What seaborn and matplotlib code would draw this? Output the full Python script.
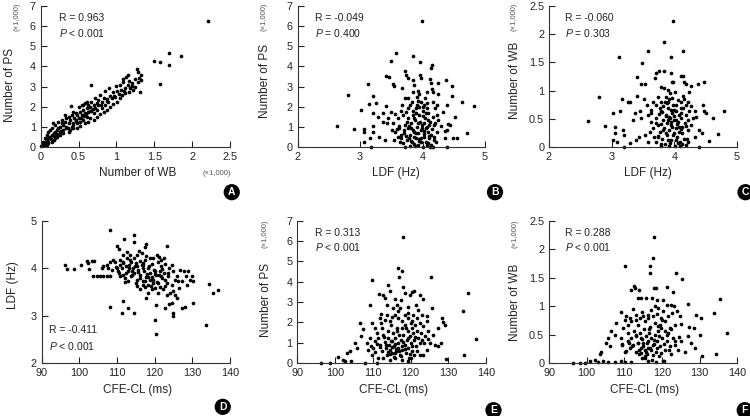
import matplotlib
matplotlib.use("Agg")
import matplotlib.pyplot as plt
import seaborn as sns

# values (WB / PS counts shown in thousands)
a_wb = [2.21,1.70,1.85,1.49,1.58,1.69,1.58,1.27,1.31,0.67,0.40,1.15,1.13,1.09,1.16,1.05,1.08,0.99,1.15,1.16,1.22,1.29,1.30,1.32,1.28,1.33,1.24,1.20,1.11,1.03,0.95,0.90,0.85,0.92,0.83,0.87,0.78,0.76,0.81,0.74,0.72,0.70,0.67,0.65,0.63,0.61,0.59,0.56,0.54,0.52,0.51,0.48,0.54,0.59,0.62,0.65,0.69,0.44,0.47,0.41,0.39,0.37,0.34,0.32,0.30,0.28,0.26,0.23,0.21,0.19,0.17,0.15,0.12,0.10,0.08,0.06,0.04,0.02,0.43,0.48,0.41,0.52,0.50,0.56,0.61,0.70,0.74,0.81,0.85,0.89,0.94,0.98,1.01,1.06,0.76,0.65,0.19,0.16,0.23,0.28,0.32,0.26,0.30,0.34,0.39,0.12,0.08,0.15,0.10,0.06,0.03,0.04,0.10,0.17,0.21,0.26,0.19,0.15,0.08,0.01,0.30,0.37,0.43,0.48,0.52,0.59,0.63,0.70,0.74,0.78,0.83,0.87,0.92,0.96,1.01,1.05,1.07,1.11,1.18,1.25,0.43,0.38,0.47,0.61,0.56,
        0.05,0.09,0.13,0.18,0.22,0.27,0.33,0.36,0.42,0.46,0.53,0.57,0.60,0.66,0.72,0.79,0.88,0.97,1.10,1.20]
a_ps = [6.26,4.69,4.54,4.27,4.24,4.07,3.15,3.87,2.72,3.06,2.05,3.58,3.49,3.38,3.28,3.08,3.21,3.05,3.08,2.72,2.83,3.25,3.44,3.58,3.74,3.33,3.38,3.16,2.91,2.62,2.72,2.91,2.78,2.55,2.45,2.37,2.58,2.33,2.22,2.17,2.42,2.09,2.25,2.00,2.09,1.92,2.17,1.84,2.09,1.75,2.00,1.59,1.59,1.67,1.75,1.79,1.89,1.42,1.34,1.59,1.34,1.18,1.42,1.26,1.09,1.18,1.01,0.93,0.84,0.76,0.68,0.60,0.51,0.43,0.35,0.26,0.18,0.10,1.09,1.18,1.01,1.26,1.42,1.34,1.51,1.67,1.84,1.92,2.09,2.25,2.42,2.50,2.78,2.83,2.09,1.42,1.09,1.18,1.26,1.34,1.59,0.76,0.84,0.93,0.84,0.84,0.60,0.93,0.76,0.43,0.26,0.10,0.18,0.35,0.51,0.60,0.43,0.26,0.10,0.03,0.68,0.76,0.93,0.96,1.06,1.18,1.26,1.34,1.51,1.62,1.75,1.84,2.00,2.12,2.25,2.42,2.58,2.67,2.91,3.00,1.75,1.51,1.67,2.25,2.09,
        0.15,0.25,0.40,0.55,0.65,0.80,1.00,0.95,1.20,1.30,1.45,1.55,1.65,1.80,1.95,2.10,2.30,2.55,2.80,3.05]

b_ldf = [3.99,3.58,3.85,3.49,3.96,4.15,4.13,3.72,3.42,3.46,3.96,3.98,3.74,3.76,3.12,3.52,3.54,3.84,3.87,4.12,4.14,4.24,4.38,4.48,3.67,3.93,4.15,4.16,4.24,2.81,3.20,4.47,4.63,4.82,3.26,3.14,3.41,3.01,3.20,3.36,3.50,3.67,3.72,3.77,3.83,3.91,3.98,4.07,4.17,4.23,4.39,4.33,4.52,4.23,4.41,4.39,4.44,4.49,4.71,4.56,2.63,2.90,3.07,3.07,3.21,3.20,3.06,3.16,3.17,3.31,3.40,3.37,3.43,3.52,3.54,3.56,3.61,3.62,3.66,3.68,3.66,3.72,3.71,3.75,3.76,3.77,3.80,3.82,3.83,3.84,3.85,3.87,3.88,3.89,3.91,3.92,3.93,3.94,3.96,3.98,3.99,4.00,4.01,4.02,4.03,4.04,4.05,4.07,4.08,4.09,4.10,4.12,4.14,4.15,4.16,4.19,4.19,4.20,4.21,4.23,4.24,3.77,3.80,3.73,3.69,3.66,3.56,3.45,3.29,3.51,3.61,3.91,3.94,3.85,4.07,4.09,3.87,3.89,3.98,4.07,4.16,4.39,3.72,3.80,3.64,3.59,4.03,4.04,3.94,3.85,4.07,4.30,4.36,4.36,
         3.74,3.78,3.81,3.86,3.90,3.93,3.95,3.97,4.00,4.02,4.05,4.08,4.11,4.13,4.18,4.20,3.82,3.86,3.90,3.94,3.99,4.03,4.06,4.10,3.70,3.75,3.79,3.63,3.92,4.00,3.88,4.12]
b_ps = [6.26,4.69,4.54,4.25,4.24,4.07,3.94,3.79,3.53,3.48,3.58,3.44,3.58,3.44,3.15,3.15,3.05,3.31,3.08,3.38,3.16,3.20,3.31,3.05,2.91,2.78,2.88,2.72,2.62,2.57,2.55,2.55,2.25,2.02,2.20,2.14,2.04,1.84,1.67,1.67,1.75,2.09,2.45,2.42,2.25,2.48,2.25,2.17,2.25,2.09,2.09,1.75,1.47,1.59,1.13,0.84,1.09,0.43,0.70,0.46,1.04,0.89,0.88,0.76,1.06,0.73,0.26,0.43,0.0,0.51,0.35,1.26,1.18,1.18,0.33,0.76,1.42,0.93,0.43,0.18,0.60,1.09,0.68,0.35,1.42,0.93,0.60,1.18,0.23,1.59,0.84,0.51,1.34,1.92,1.01,0.10,0.68,1.59,1.26,0.43,0.93,1.79,0.02,1.18,0.63,1.42,0.26,1.01,1.67,0.76,0.43,1.26,0.10,0.89,1.51,0.51,1.09,1.92,0.23,0.76,1.34,1.92,2.09,1.75,1.59,1.79,1.62,1.42,1.51,0.84,0.51,2.09,2.00,1.79,1.92,1.34,0.76,0.46,0.26,0.10,0.02,0.0,0.02,0.07,0.26,0.89,2.09,2.42,2.62,2.72,2.75,1.06,0.79,0.43,
        0.55,1.05,0.30,1.45,0.70,1.20,0.40,0.85,1.55,0.50,0.95,0.20,1.10,0.60,0.35,1.20,0.95,0.15,1.70,0.30,1.10,0.80,1.70,0.55,0.85,1.25,0.45,1.05,2.30,2.00,0.05,0.0]

c_ldf = [3.98,3.84,3.58,4.14,3.12,3.95,3.48,3.71,3.75,3.84,3.95,4.11,4.14,3.41,3.47,3.53,3.69,3.79,3.84,3.90,3.96,3.98,4.15,4.19,4.27,4.37,4.47,4.23,4.14,4.16,2.80,3.17,3.26,3.29,3.40,3.51,3.74,3.78,3.85,3.90,3.96,4.03,4.10,4.46,4.48,4.79,4.62,4.33,4.51,4.34,2.62,2.89,3.02,3.05,3.06,3.18,3.19,3.14,3.08,3.19,3.30,3.39,3.43,3.38,3.45,3.47,3.58,3.62,3.63,3.66,3.68,3.70,3.71,3.74,3.77,3.79,3.80,3.82,3.83,3.85,3.86,3.88,3.89,3.90,3.91,3.93,3.94,3.95,3.96,3.98,3.99,4.01,4.02,4.03,4.05,4.06,4.07,4.09,4.10,4.11,4.13,4.14,4.15,4.17,4.18,4.19,4.21,4.22,4.24,4.26,4.30,4.39,4.40,4.44,4.55,4.70,3.56,3.66,3.71,3.77,3.82,3.87,3.93,4.01,4.06,4.19,4.22,4.27,3.02,3.34,3.53,3.58,3.61,3.78,3.74,3.91,4.09,4.22,4.33,3.91,3.98,4.07,
         3.74,3.78,3.81,3.86,3.90,3.93,3.95,3.97,4.00,4.02,4.05,4.08,4.11,4.13,4.18,4.20,3.82,3.86,3.90,3.94,3.99,4.03,4.06,4.10,3.70,3.75,3.79,3.63,3.92,4.00,3.88,4.12]
c_wb = [2.23,1.86,1.71,1.70,1.59,1.59,1.49,1.32,1.34,1.35,1.31,1.26,1.26,1.25,1.12,1.11,1.23,1.07,1.04,1.01,1.16,1.15,1.15,1.11,1.08,1.12,1.15,0.97,0.91,0.86,0.89,0.85,0.79,0.80,0.90,0.86,0.89,0.80,0.79,0.79,0.87,0.74,0.80,0.74,0.64,0.64,0.52,0.64,0.61,0.54,0.47,0.38,0.60,0.36,0.25,0.30,0.21,0.64,0.09,0.0,0.07,0.12,0.18,0.60,0.63,0.51,0.57,0.66,0.45,0.33,0.18,0.09,0.52,0.39,0.27,0.63,0.15,0.48,0.33,0.05,0.57,0.42,0.21,0.69,0.30,0.51,0.12,0.39,0.60,0.21,0.48,0.02,0.33,0.64,0.18,0.45,0.57,0.09,0.32,0.51,0.24,0.69,0.15,0.42,0.04,0.57,0.30,0.48,0.63,0.39,0.51,0.30,0.0,0.24,0.11,0.23,0.74,0.80,0.74,0.69,0.72,0.89,0.95,0.98,0.83,0.74,0.80,0.72,0.12,0.48,0.21,0.09,0.27,0.01,0.18,0.01,0.01,0.09,0.18,0.54,0.74,0.36,
        0.20,0.40,0.62,0.25,0.48,0.08,0.66,0.35,0.55,0.12,0.40,0.27,0.60,0.05,0.38,0.15,0.30,0.55,0.12,0.45,0.25,0.48,0.08,0.70,0.42,0.58,0.05,0.60,0.85,0.65,0.78,0.35]

d_cfe = [108.2,114.4,111.9,114.4,110.1,110.5,117.7,117.4,115.8,123.2,113.5,120.5,121.2,118.8,96.2,96.6,98.7,100.4,101.9,102.4,103.3,103.9,102.6,106.4,107.3,108.1,108.8,109.5,110.8,111.7,112.6,113.5,103.7,104.6,105.5,106.4,107.3,108.1,107.7,108.6,109.7,110.3,111.2,111.7,112.4,112.8,113.3,113.6,114.2,114.6,115.0,115.2,115.7,116.1,116.5,116.8,117.2,117.4,117.7,118.1,118.3,118.8,119.2,119.5,119.8,120.1,120.4,120.8,121.0,121.3,121.6,122.0,122.3,122.5,122.8,123.2,123.6,123.9,124.1,124.5,124.9,125.4,125.8,126.0,126.5,127.2,127.8,128.3,128.5,128.9,129.4,129.8,130.3,134.3,135.4,136.8,133.7,108.1,111.7,111.3,113.0,114.6,117.7,118.3,120.4,120.1,120.4,122.7,123.9,124.9,124.9,124.5,127.3,128.1,130.3,116.1,115.2,116.9,118.8,119.6,121.0,121.4,122.7,123.2,124.8,125.4,126.3,118.3,113.0,112.2,110.8,113.9,115.2,116.1,116.9,117.8,119.6,121.8,122.5,109.9,110.8,106.0,111.6,114.4,115.2,116.5,112.6,126.7,124.5,121.6,120.1,117.4,119.2,
         111.5,112.5,113.2,114.0,114.8,115.5,116.2,116.8,117.5,118.0,118.6,119.2,120.0,120.6,121.2,122.0,122.8,123.5,112.0,115.0,119.0,110.5,113.8,117.0]
d_ldf = [4.80,4.70,4.61,4.56,4.46,4.40,4.51,4.45,4.36,4.47,4.28,4.28,4.23,4.21,4.07,3.99,3.99,4.07,4.16,4.11,4.16,4.16,3.99,4.04,4.07,4.13,4.18,4.13,4.18,4.14,4.21,4.18,3.83,3.83,3.83,3.83,3.83,3.83,4.00,3.97,4.02,3.93,4.00,3.86,4.04,3.93,4.07,3.83,4.00,3.90,4.11,3.76,3.97,3.86,4.07,3.72,3.93,4.18,3.81,4.00,3.65,3.90,4.09,3.76,3.97,3.58,3.85,4.14,3.69,3.93,4.04,3.79,3.55,3.90,4.09,3.69,3.83,4.00,3.48,3.65,3.93,3.76,3.37,3.83,3.58,3.72,3.95,3.83,3.65,3.93,3.76,3.83,3.72,3.67,3.48,3.53,2.81,3.18,3.31,3.06,3.16,3.06,3.37,3.48,3.22,2.90,2.62,3.16,3.24,3.05,3.00,3.27,3.16,3.19,3.27,3.55,3.62,3.65,3.76,3.69,3.48,3.60,3.62,3.44,3.52,3.44,3.72,3.81,3.72,3.79,3.83,3.95,4.04,4.16,4.07,4.25,4.21,4.18,4.21,4.00,4.07,4.00,4.28,4.21,4.28,4.32,4.35,3.97,4.07,3.83,3.88,3.60,3.55,
         4.10,3.90,4.00,3.85,4.05,3.92,3.80,4.00,3.72,3.88,4.05,3.82,3.95,3.70,3.85,3.98,3.75,3.90,3.70,3.68,3.62,3.90,4.12,4.10]

e_cfe = [117.9,116.7,117.6,116.9,125.4,109.9,135.3,113.9,114.6,111.6,112.7,113.2,115.9,118.1,118.5,121.0,120.5,123.4,119.9,122.5,109.3,117.5,116.3,117.2,119.2,121.4,122.1,123.0,124.3,125.7,128.3,128.7,129.0,127.2,134.0,137.4,134.2,129.4,112.3,111.9,113.7,114.6,115.0,115.9,116.6,117.6,118.5,119.4,120.3,121.2,121.6,122.5,123.4,124.3,124.7,126.0,126.5,127.3,128.0,125.2,124.3,123.4,106.6,107.5,107.0,105.3,105.7,104.0,103.1,100.7,102.2,102.6,104.2,107.9,111.0,96.4,98.7,109.3,108.4,108.8,109.7,110.1,110.6,111.0,111.5,111.9,112.4,112.5,112.8,113.2,113.4,113.7,113.9,114.1,114.3,114.6,114.8,115.0,115.2,115.4,115.7,115.9,116.1,116.3,116.6,116.8,117.0,117.2,117.5,117.6,117.8,118.1,118.4,118.5,118.8,119.0,119.2,119.4,119.7,119.9,120.1,120.3,120.5,120.7,121.0,121.4,121.7,122.1,122.4,122.8,123.1,123.8,120.1,117.6,115.9,119.4,112.7,111.5,114.6,121.0,110.6,109.7,112.2,113.2,116.8,115.4,119.4,120.7,113.7,
         112.0,113.0,114.0,114.8,115.5,116.0,116.5,117.0,117.5,118.0,118.6,119.2,119.8,120.5,121.2,121.8,122.5,115.0,115.8,116.2,114.5,113.5,117.8,118.9,120.0,110.5,111.2,109.5,123.5,124.5]
e_ps = [6.20,4.66,4.52,4.21,4.21,4.07,3.44,3.85,3.56,3.39,3.33,3.20,3.16,3.72,3.44,3.56,3.49,3.16,3.33,3.33,2.84,3.11,2.87,2.70,2.74,2.87,2.62,2.38,2.30,2.70,2.21,2.02,1.85,1.72,2.57,1.20,0.38,0.18,2.41,2.21,2.38,2.05,2.25,2.38,2.21,2.05,2.38,2.21,2.05,1.89,2.21,1.97,1.80,2.05,1.56,1.39,0.90,0.82,0.98,0.98,0.66,0.41,1.97,1.67,1.31,0.98,0.74,0.61,0.49,0.28,0.16,0.08,0.11,0.0,0.02,0.0,0.0,1.23,0.98,0.66,0.41,0.74,1.07,1.48,1.23,0.90,0.57,1.72,1.39,1.03,0.74,0.41,1.56,1.23,0.90,0.66,1.89,1.07,0.49,1.48,0.82,1.23,0.57,1.72,0.98,0.74,1.39,0.41,1.15,1.72,0.66,1.39,0.90,1.89,0.49,1.15,1.56,0.74,0.25,1.31,0.98,1.72,0.57,1.48,1.15,0.82,1.56,1.23,0.98,1.48,1.15,1.31,0.25,0.16,0.25,0.11,0.25,0.25,0.16,0.41,1.72,1.97,1.97,2.13,2.54,2.70,2.46,2.38,2.87,
        0.80,1.30,0.55,1.10,0.30,0.95,1.55,0.60,0.35,1.05,0.70,1.25,0.45,0.85,1.30,0.60,0.40,0.78,0.50,0.70,0.45,0.90,0.85,1.70,1.95,0.55,0.95,0.85,1.00,1.20]

f_cfe = [117.9,117.6,110.1,116.7,116.7,123.6,125.4,112.6,112.9,113.8,111.9,117.8,118.3,121.3,122.9,135.4,133.8,137.2,113.5,114.5,115.8,117.3,118.8,120.3,122.5,123.1,126.8,128.9,130.4,112.3,113.2,114.7,116.3,117.6,118.8,119.8,121.6,122.7,123.9,124.7,109.2,107.9,110.1,111.0,111.9,113.5,115.4,116.7,118.1,119.4,120.7,122.0,123.4,125.0,127.3,128.5,130.0,126.9,127.8,128.7,130.6,134.4,106.5,107.4,105.7,105.2,106.1,103.9,103.5,102.1,100.8,99.5,98.1,96.4,103.0,104.3,105.7,107.4,109.2,110.1,111.7,109.0,109.4,110.1,110.9,111.0,111.4,111.9,112.3,112.6,113.2,113.2,113.6,113.8,114.1,114.3,114.5,114.8,115.0,115.2,115.4,115.7,115.9,116.3,116.5,116.8,117.2,117.4,117.7,118.1,118.3,118.7,118.9,119.3,119.6,120.0,120.4,120.7,121.2,121.6,122.0,122.5,122.9,123.4,124.2,125.1,126.0,116.3,117.2,118.1,118.9,120.3,121.2,114.1,115.0,113.2,111.4,120.7,119.8,115.4,116.3,118.5,120.3,109.6,110.5,
         112.0,113.0,114.0,114.8,115.5,116.0,116.5,117.0,117.5,118.0,118.6,119.2,119.8,120.5,121.2,121.8,122.5,115.0,115.8,116.2,114.5,113.5,117.8,118.9,120.0,110.5,111.2,109.5,123.5,124.5]
f_wb = [2.21,1.84,1.70,1.70,1.59,1.59,1.48,1.35,1.32,1.29,1.29,1.32,1.32,1.33,1.25,1.13,0.88,0.52,1.15,1.14,1.14,1.15,1.11,1.11,1.02,1.00,1.04,0.85,0.79,0.95,0.85,0.90,0.85,0.82,0.86,0.79,0.82,0.88,0.91,0.82,0.89,0.70,0.76,0.67,0.73,0.67,0.73,0.64,0.70,0.67,0.73,0.61,0.67,0.68,0.64,0.61,0.50,0.47,0.35,0.26,0.12,0.15,0.57,0.50,0.44,0.35,0.29,0.20,0.15,0.06,0.03,0.0,0.0,0.0,0.02,0.04,0.02,0.02,0.03,0.01,0.02,0.44,0.32,0.20,0.38,0.53,0.26,0.44,0.32,0.56,0.20,0.47,0.35,0.15,0.53,0.26,0.44,0.09,0.35,0.59,0.23,0.47,0.15,0.38,0.53,0.26,0.44,0.06,0.32,0.50,0.20,0.38,0.56,0.12,0.29,0.44,0.04,0.23,0.38,0.53,0.29,0.15,0.44,0.32,0.23,0.38,0.20,0.79,0.94,1.00,0.97,0.91,1.02,0.79,0.82,0.76,0.79,0.56,0.61,0.09,0.03,0.02,0.03,0.61,0.82,
        0.30,0.50,0.22,0.42,0.12,0.36,0.60,0.23,0.14,0.40,0.27,0.48,0.17,0.33,0.50,0.23,0.60,0.30,0.19,0.27,0.17,0.35,0.33,0.65,0.75,0.21,0.36,0.33,0.38,0.46]

sns.set_style("ticks")
plt.rcParams["font.family"] = ["Liberation Sans", "DejaVu Sans"]
plt.rcParams["mathtext.fontset"] = "custom"
plt.rcParams["mathtext.rm"] = "Liberation Sans"
plt.rcParams["mathtext.it"] = "Liberation Sans:italic"

TXT = "#222222"
fig = plt.figure(figsize=(7.5, 4.16), dpi=100)


def panel(rect, x, y, xlim, ylim, xticks, yticks, xlabel, ylabel,
          r_txt, p_txt, stat_y, ylab_pos, xlab_pos, thousands_y):
    ax = fig.add_axes(rect)
    sns.scatterplot(x=x, y=y, ax=ax, color="black", s=7, linewidth=0,
                    clip_on=False)
    ax.set_xlim(*xlim)
    ax.set_ylim(*ylim)
    ax.set_xticks(xticks)
    ax.set_yticks(yticks)
    ax.set_xticklabels([f"{t:g}" for t in xticks])
    ax.set_yticklabels([f"{t:g}" for t in yticks])
    ax.tick_params(direction="in", length=4, width=0.8, labelsize=7.8,
                   colors=TXT, pad=3.5)
    sns.despine(ax=ax)
    for s in ("left", "bottom"):
        ax.spines[s].set_linewidth(0.8)
        ax.spines[s].set_color("#333333")
    ax.set_xlabel(xlabel, fontsize=8.5, color=TXT)
    ax.set_ylabel(ylabel, fontsize=8.5, color=TXT)
    ax.xaxis.set_label_coords(*xlab_pos)
    ax.yaxis.set_label_coords(*ylab_pos)
    ax.text(stat_y[0], stat_y[1], r_txt, transform=ax.transAxes,
            fontsize=7.5, color=TXT, va="center")
    ax.text(stat_y[0], stat_y[2], r"$\it{P}$" + p_txt, transform=ax.transAxes,
            fontsize=7.5, color=TXT, va="center")
    if thousands_y is not None:
        ax.text(thousands_y[0], thousands_y[1], "(×1,000)", transform=ax.transAxes,
                rotation=90, fontsize=5.5, color="#555555", ha="center", va="center")
    return ax


top = [0.6466, 0.3389]
bot = [0.1274, 0.342]

panel([0.0543, top[0], 0.2524, top[1]], a_wb, a_ps, (0, 2.5), (0, 7),
      [0, 0.5, 1, 1.5, 2, 2.5], range(8), "Number of WB", "Number of PS",
      "R = 0.963", " < 0.001", (0.098, 0.917, 0.81), (-0.13, 0.44), (0.514, -0.142),
      (-0.125, 0.92))
panel([0.3969, top[0], 0.2497, top[1]], b_ldf, b_ps, (2, 5), (0, 7),
      [2, 3, 4, 5], range(8), "LDF (Hz)", "Number of PS",
      "R = -0.049", " = 0.400", (0.092, 0.917, 0.81), (-0.143, 0.47), (0.525, -0.142),
      (-0.18, 0.92))
panel([0.732, top[0], 0.2507, top[1]], c_ldf, c_wb, (2, 5), (0, 2.5),
      [2, 3, 4, 5], [0, 0.5, 1, 1.5, 2, 2.5], "LDF (Hz)", "Number of WB",
      "R = -0.060", " = 0.303", (0.085, 0.917, 0.81), (-0.149, 0.47), (0.525, -0.142),
      (-0.185, 0.92))
panel([0.0556, bot[0], 0.2511, bot[1]], d_cfe, d_ldf, (90, 140), (2, 5),
      [90, 100, 110, 120, 130, 140], [2, 3, 4, 5], "CFE-CL (ms)", "LDF (Hz)",
      "R = -0.411", " < 0.001", (0.04, 0.232, 0.122), (-0.119, 0.55), (0.51, -0.148),
      None)
panel([0.3964, bot[0], 0.2517, bot[1]], e_cfe, e_ps, (90, 140), (0, 7),
      [90, 100, 110, 120, 130, 140], range(8), "CFE-CL (ms)", "Number of PS",
      "R = 0.313", " < 0.001", (0.094, 0.911, 0.817), (-0.134, 0.44), (0.51, -0.148),
      (-0.17, 0.906))
panel([0.732, bot[0], 0.2511, bot[1]], f_cfe, f_wb, (90, 140), (0, 2.5),
      [90, 100, 110, 120, 130, 140], [0, 0.5, 1, 1.5, 2, 2.5], "CFE-CL (ms)", "Number of WB",
      "R = 0.288", " < 0.001", (0.085, 0.911, 0.817), (-0.149, 0.43), (0.51, -0.148),
      (-0.18, 0.906))

# x-axis multiplier for panel A
fig.text(0.289, 0.582, "(×1,000)", fontsize=5.5, color="#555555", ha="center", va="center")

# panel letters in black circles
for letter, (lx, ly) in zip("ABCDEF", [(0.309, 0.538), (0.66, 0.538), (0.994, 0.538),
                                      (0.297, 0.022), (0.658, 0.014), (0.993, 0.014)]):
    fig.text(lx, ly, letter, color="white", fontsize=7.5, fontweight="bold",
             ha="center", va="center",
             bbox=dict(boxstyle="circle,pad=0.3", fc="black", ec="none"))

fig.savefig("out.png", dpi=100)
